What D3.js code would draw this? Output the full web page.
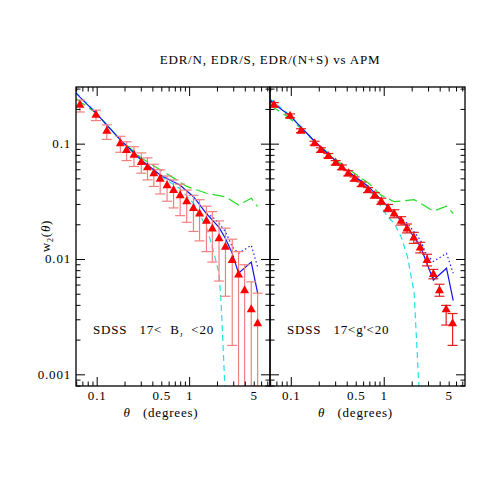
<!DOCTYPE html><html><head><meta charset="utf-8">
<script src="https://cdn.jsdelivr.net/npm/d3@7"></script>
<style>body{margin:0;background:#fff}text{font-family:"Liberation Serif","DejaVu Serif",serif;white-space:pre;letter-spacing:0.8px}</style></head><body>
<svg id="c" width="491" height="491"></svg>
<script>
const theta=[0.065,0.097,0.127,0.178,0.208,0.25,0.30,0.35,0.41,0.48,0.57,0.67,0.79,0.93,1.10,1.28,1.52,1.76,2.08,2.44,2.89,3.38,3.93,4.64,5.44];
const wL=[0.22,0.18,0.131,0.102,0.089,0.081,0.070,0.063,0.056,0.050,0.044,0.040,0.036,0.032,0.028,0.025,0.0217,0.0186,0.0153,0.0129,0.0099,0.0074,0.0054,0.0037,0.0028];
const upL=[0.241,0.197,0.147,0.117,0.105,0.095,0.084,0.076,0.067,0.060,0.053,0.049,0.045,0.040,0.036,0.033,0.029,0.026,0.0216,0.0187,0.0150,0.0117,0.0090,0.0064,0.0051];
const loL=[0.19,0.16,0.11,0.085,0.072,0.064,0.056,0.049,0.043,0.037,0.032,0.028,0.024,0.021,0.0175,0.0145,0.0117,0.0095,0.0065,0.0048,0.0018,0.0005,0.0005,0.0005,0.0005];
const wR=[0.22,0.176,0.131,0.102,0.089,0.079,0.069,0.063,0.056,0.050,0.045,0.040,0.036,0.032,0.028,0.025,0.0217,0.0186,0.0155,0.0127,0.0099,0.0075,0.0054,0.0037,0.0028];
const upR=[0.229,0.183,0.136,0.106,0.093,0.083,0.072,0.066,0.059,0.052,0.047,0.042,0.038,0.034,0.030,0.027,0.0235,0.0203,0.0172,0.0141,0.0111,0.0082,0.0061,0.0040,0.0034];
const loR=[0.211,0.169,0.126,0.098,0.085,0.076,0.066,0.060,0.053,0.048,0.043,0.038,0.034,0.030,0.026,0.023,0.0199,0.0170,0.0138,0.0114,0.0088,0.0068,0.0048,0.0027,0.0018];
const blueL=[[0.058,0.28],[0.097,0.186],[0.178,0.109],[0.30,0.073],[0.48,0.054],[0.79,0.044],[1.10,0.035],[1.52,0.025],[2.08,0.019],[2.44,0.0152],[2.89,0.0113],[3.38,0.0076],[4.64,0.0095],[5.44,0.0051]];
const dotL=[[1.52,0.025],[1.76,0.0235],[2.08,0.0206],[2.44,0.0174],[2.89,0.0129],[3.38,0.0113],[4.64,0.0133],[5.44,0.0086]];
const cyanL=[[0.058,0.285],[0.097,0.188],[0.178,0.109],[0.30,0.072],[0.48,0.053],[0.79,0.041],[1.10,0.0307],[1.52,0.019],[1.76,0.0129],[2.08,0.0076],[2.2,0.0039],[2.35,0.0012],[2.4,0.0008]];
const greenL=[[0.058,0.25],[0.097,0.186],[0.178,0.109],[0.30,0.076],[0.48,0.060],[0.67,0.051],[0.93,0.043],[1.52,0.0375],[2.44,0.035],[3.38,0.0297],[4.64,0.034],[5.44,0.0288]];
const blueR=[[0.058,0.246],[0.065,0.224],[0.097,0.176],[0.18,0.105],[0.355,0.063],[0.675,0.043],[1.09,0.0287],[1.78,0.019],[2.46,0.0129],[3.38,0.0066],[4.68,0.0084],[5.53,0.0044]];
const dotR=[[1.09,0.0287],[1.28,0.025],[1.78,0.0206],[2.46,0.0147],[2.86,0.0109],[3.38,0.0096],[4.68,0.0113],[5.53,0.0076]];
const cyanR=[[0.058,0.25],[0.097,0.178],[0.18,0.105],[0.355,0.063],[0.675,0.042],[1.09,0.0235],[1.28,0.0206],[1.52,0.0157],[1.78,0.0106],[2.10,0.0051],[2.30,0.0012],[2.36,0.0008]];
const greenR=[[0.058,0.22],[0.097,0.167],[0.18,0.105],[0.355,0.066],[0.675,0.046],[0.93,0.036],[1.28,0.0317],[2.10,0.033],[3.38,0.0263],[4.68,0.029],[5.53,0.025]];
const xTicks=[0.1,0.5,1,5];
const yTicks=[0.001,0.01,0.1];
const labels=["SDSS   17< B","SDSS   17<g'<20"];

const svg=d3.select("#c");
const T=87,B=386;
const y=d3.scaleLog().domain([0.0008,0.313]).range([B,T]);
svg.append("text").attr("x",270).attr("y",64).attr("text-anchor","middle").attr("font-size",13).text("EDR/N, EDR/S, EDR/(N+S) vs APM");
svg.append("text").attr("transform","translate(50,236) rotate(-90)").attr("text-anchor","middle").attr("font-size",13).html('w<tspan font-size="8" dy="3">2</tspan><tspan dy="-3">(</tspan><tspan font-style="italic">θ</tspan>)');
const panels=[{x0:76,x1:270,w:wL,up:upL,lo:loL,blue:blueL,dot:dotL,cyan:cyanL,green:greenL,ebc:"#f08080"},
 {x0:270,x1:465,w:wR,up:upR,lo:loR,blue:blueR,dot:dotR,cyan:cyanR,green:greenR,ebc:"#e02020"}];
panels.forEach((p,i)=>{
 const x=d3.scaleLog().domain([0.059,7.4]).range([p.x0,p.x1]);
 const g=svg.append("g");
 g.append("defs").append("clipPath").attr("id","cl"+i).append("rect").attr("x",p.x0).attr("y",T).attr("width",p.x1-p.x0).attr("height",B-T);
 const cg=g.append("g").attr("clip-path",`url(#cl${i})`);
 const line=d3.line().x(d=>x(d[0])).y(d=>y(d[1]));
 cg.append("path").attr("d",line(p.green)).attr("fill","none").attr("stroke","#22dd22").attr("stroke-width",1.2).attr("stroke-dasharray","12,5");
 cg.append("path").attr("d",line(p.cyan)).attr("fill","none").attr("stroke","#22e0e8").attr("stroke-width",1.2).attr("stroke-dasharray","6,4");
 cg.append("path").attr("d",line(p.dot)).attr("fill","none").attr("stroke","#2222ff").attr("stroke-width",1.2).attr("stroke-dasharray","1.5,2.5");
 cg.append("path").attr("d",line(p.blue)).attr("fill","none").attr("stroke","#1010ee").attr("stroke-width",1.2);
 theta.forEach((t,k)=>{
  const cx=x(t);
  cg.append("line").attr("x1",cx).attr("x2",cx).attr("y1",y(p.up[k])).attr("y2",y(p.lo[k])).attr("stroke",p.ebc).attr("stroke-width",1.2);
  [p.up[k],p.lo[k]].forEach(v=>cg.append("line").attr("x1",cx-5).attr("x2",cx+5).attr("y1",y(v)).attr("y2",y(v)).attr("stroke",p.ebc).attr("stroke-width",1.2));
  const cy=y(p.w[k]);
  cg.append("path").attr("d",`M${cx},${cy-5}L${cx+4.5},${cy+3}L${cx-4.5},${cy+3}Z`).attr("fill","#ff0000");
 });
 g.append("rect").attr("x",p.x0).attr("y",T).attr("width",p.x1-p.x0).attr("height",B-T).attr("fill","none").attr("stroke","#000").attr("stroke-width",1.3);
 const xt=[];for(let d=-2;d<=0;d++)for(let m=1;m<10;m++){const v=m*Math.pow(10,d);if(v>=0.059&&v<=7.4)xt.push(v);}
 xt.forEach(v=>{const L=(v===0.1||v===1)?9:4.5;const px=x(v);
  g.append("line").attr("x1",px).attr("x2",px).attr("y1",B).attr("y2",B-L).attr("stroke","#000");
  g.append("line").attr("x1",px).attr("x2",px).attr("y1",T).attr("y2",T+L).attr("stroke","#000");});
 xTicks.forEach(v=>g.append("text").attr("x",x(v)).attr("y",B+14).attr("text-anchor","middle").attr("font-size",13).text(v));
 const yt=[];for(let d=-4;d<=-1;d++)for(let m=1;m<10;m++){const v=m*Math.pow(10,d);if(v>=0.0008&&v<=0.313)yt.push(v);}
 yt.forEach(v=>{const L=yTicks.includes(+v.toPrecision(3))?9:4.5;const py=y(v);
  g.append("line").attr("x1",p.x0).attr("x2",p.x0+L).attr("y1",py).attr("y2",py).attr("stroke","#000");
  g.append("line").attr("x1",p.x1).attr("x2",p.x1-L).attr("y1",py).attr("y2",py).attr("stroke","#000");});
 if(i===0) yTicks.forEach(v=>g.append("text").attr("x",p.x0-5).attr("y",y(v)+4).attr("text-anchor","end").attr("font-size",13).text(v));
 g.append("text").attr("x",(p.x0+p.x1)/2-12).attr("y",417).attr("text-anchor","middle").attr("font-size",13).html('<tspan font-style="italic">θ</tspan>   (degrees)');
 const lt=g.append("text").attr("x",p.x0+17).attr("y",334).attr("font-size",13);
 if(i===0) lt.html('SDSS   17&lt;  B<tspan font-size="7" dy="3">J</tspan><tspan dy="-3">  &lt;20</tspan>'); else lt.text(labels[1]);
});
</script></body></html>
